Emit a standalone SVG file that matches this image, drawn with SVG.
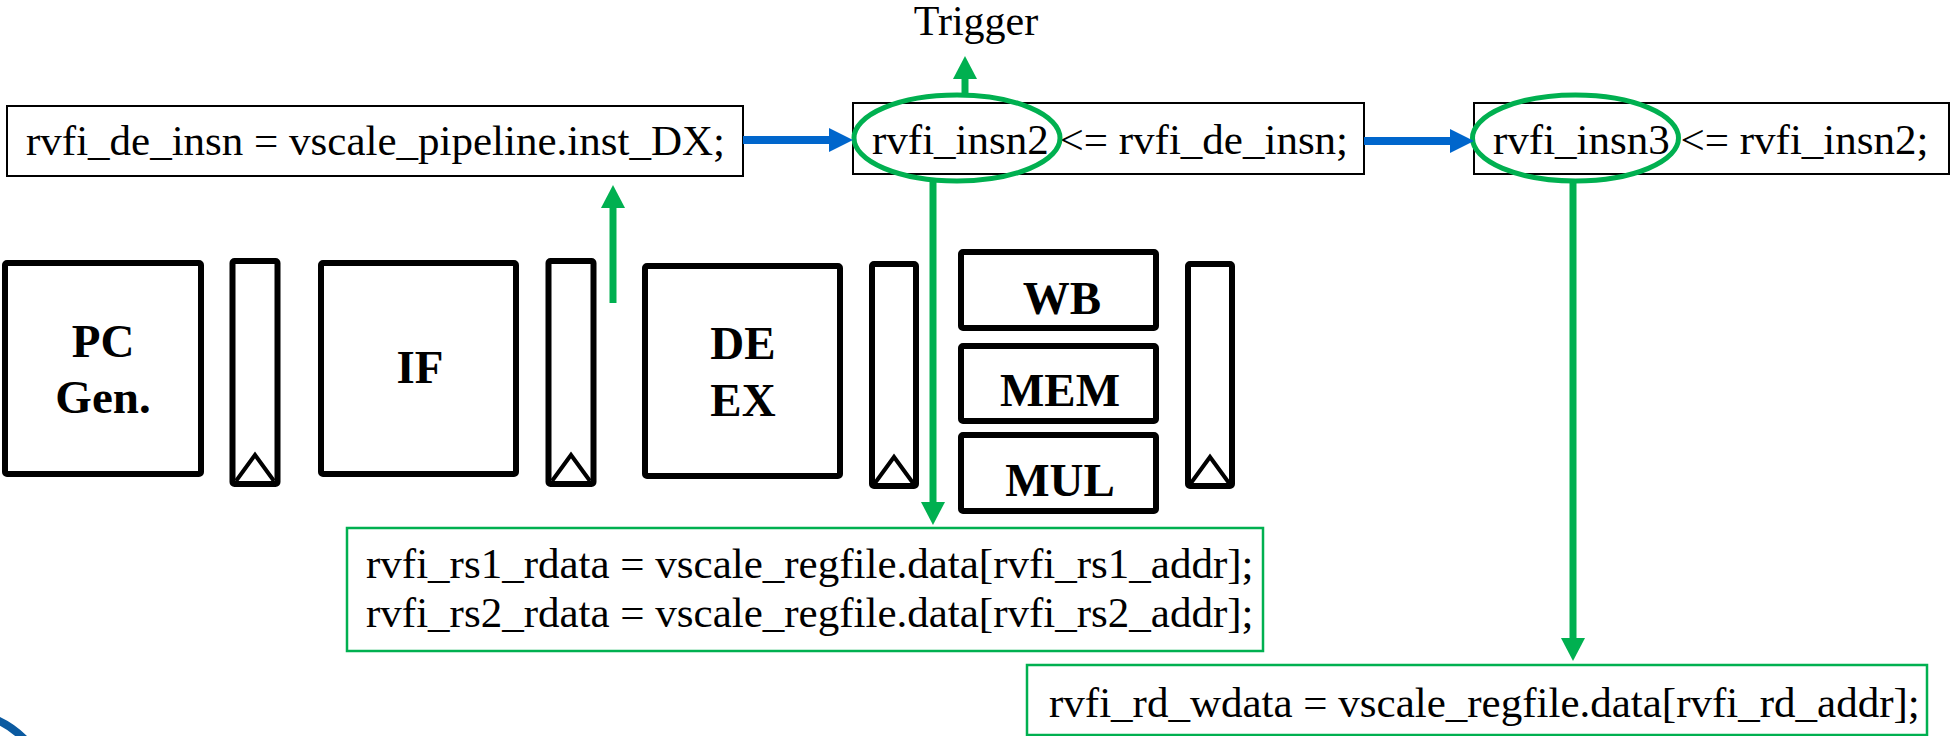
<svg xmlns="http://www.w3.org/2000/svg" width="1951" height="736" viewBox="0 0 1951 736">
<style>
.code{font-family:"Liberation Serif","Times New Roman",serif;font-size:43px;fill:#000}
.lbl{font-family:"Liberation Serif","Times New Roman",serif;font-size:47px;font-weight:bold;fill:#000;text-anchor:middle}
.cbox{fill:#fff;stroke:#000;stroke-width:2}
.gbox{fill:#fff;stroke:#00B050;stroke-width:2.5}
.blk{fill:#fff;stroke:#000;stroke-width:6;stroke-linejoin:round}
.tri{fill:none;stroke:#000;stroke-width:4;stroke-linejoin:miter}
.blue{stroke:#0066CC;stroke-width:8;fill:none}
.green{stroke:#00B050;stroke-width:7;fill:none}
.ell{fill:none;stroke:#00B050;stroke-width:5}
</style>
<defs>
<marker id="bh" markerUnits="userSpaceOnUse" markerWidth="24" markerHeight="24" refX="1" refY="12" orient="auto">
<path d="M0,0 L24,12 L0,24 z" fill="#0066CC"/>
</marker>
<marker id="gh" markerUnits="userSpaceOnUse" markerWidth="24" markerHeight="24" refX="1" refY="12" orient="auto">
<path d="M0,0 L23,12 L0,24 z" fill="#00B050"/>
</marker>
</defs>
<rect width="1951" height="736" fill="#fff"/>

<g id="code1">
<rect class="cbox" x="7" y="106" width="736" height="70"/>
<text class="code" x="26" y="155">rvfi_de_insn = vscale_pipeline.inst_DX;</text>
</g>
<g id="code2">
<rect class="cbox" x="853" y="103" width="511" height="71"/>
<text class="code" x="872" y="154">rvfi_insn2 &lt;= rvfi_de_insn;</text>
</g>
<g id="code3">
<rect class="cbox" x="1474" y="103" width="475" height="71"/>
<text class="code" x="1493" y="154">rvfi_insn3 &lt;= rvfi_insn2;</text>
</g>
<g id="trigger">
<text class="code" x="976" y="35" text-anchor="middle" style="font-size:42px">Trigger</text>
</g>

<g id="pcgen">
<rect class="blk" x="5" y="263" width="196" height="211" rx="2"/>
<text class="lbl" x="103" y="357">PC</text>
<text class="lbl" x="103" y="413">Gen.</text>
</g>
<g id="reg1">
<rect class="blk" x="232.5" y="261" width="45" height="223" rx="2"/>
<path class="tri" d="M236,481 L255,455 L274,481"/>
</g>
<g id="if">
<rect class="blk" x="321" y="263" width="195" height="211" rx="2"/>
<text class="lbl" x="420" y="383">IF</text>
</g>
<g id="reg2">
<rect class="blk" x="548.5" y="261" width="45" height="223" rx="2"/>
<path class="tri" d="M552,481 L571,455 L590,481"/>
</g>
<g id="deex">
<rect class="blk" x="645" y="266" width="195" height="210" rx="2"/>
<text class="lbl" x="743" y="359">DE</text>
<text class="lbl" x="743" y="416">EX</text>
</g>
<g id="reg3">
<rect class="blk" x="872" y="264" width="44" height="222" rx="2"/>
<path class="tri" d="M875,483 L894,457 L913,483"/>
</g>
<g id="wb">
<rect class="blk" x="961" y="252" width="195" height="76" rx="2"/>
<text class="lbl" x="1062" y="314">WB</text>
</g>
<g id="mem">
<rect class="blk" x="961" y="346" width="195" height="75" rx="2"/>
<text class="lbl" x="1060" y="406">MEM</text>
</g>
<g id="mul">
<rect class="blk" x="961" y="435" width="195" height="76" rx="2"/>
<text class="lbl" x="1060" y="496">MUL</text>
</g>
<g id="reg4">
<rect class="blk" x="1188" y="264" width="44" height="222" rx="2"/>
<path class="tri" d="M1191,483 L1210,457 L1229,483"/>
</g>

<g id="rsbox">
<rect class="gbox" x="347" y="528" width="916" height="123"/>
<text class="code" x="366" y="578">rvfi_rs1_rdata = vscale_regfile.data[rvfi_rs1_addr];</text>
<text class="code" x="366" y="627">rvfi_rs2_rdata = vscale_regfile.data[rvfi_rs2_addr];</text>
</g>
<g id="rdbox">
<rect class="gbox" x="1027" y="665" width="900" height="70"/>
<text class="code" x="1049" y="717">rvfi_rd_wdata = vscale_regfile.data[rvfi_rd_addr];</text>
</g>

<g id="highlights">
<ellipse class="ell" cx="957" cy="138" rx="103" ry="43"/>
<ellipse class="ell" cx="1575.5" cy="138" rx="103" ry="43"/>
</g>

<g id="connectors">
<line class="blue" x1="743" y1="140" x2="830" y2="140" marker-end="url(#bh)"/>
<line class="blue" x1="1364" y1="141" x2="1451" y2="141" marker-end="url(#bh)"/>
<line class="green" x1="965" y1="95" x2="965" y2="78" marker-end="url(#gh)"/>
<line class="green" x1="613" y1="303" x2="613" y2="207" marker-end="url(#gh)"/>
<line class="green" x1="933" y1="181" x2="933" y2="503" marker-end="url(#gh)"/>
<line class="green" x1="1573" y1="181" x2="1573" y2="639" marker-end="url(#gh)"/>
</g>

<g id="logo">
<circle cx="-40" cy="802" r="90" fill="none" stroke="#0B5AA0" stroke-width="8"/>
</g>
</svg>
